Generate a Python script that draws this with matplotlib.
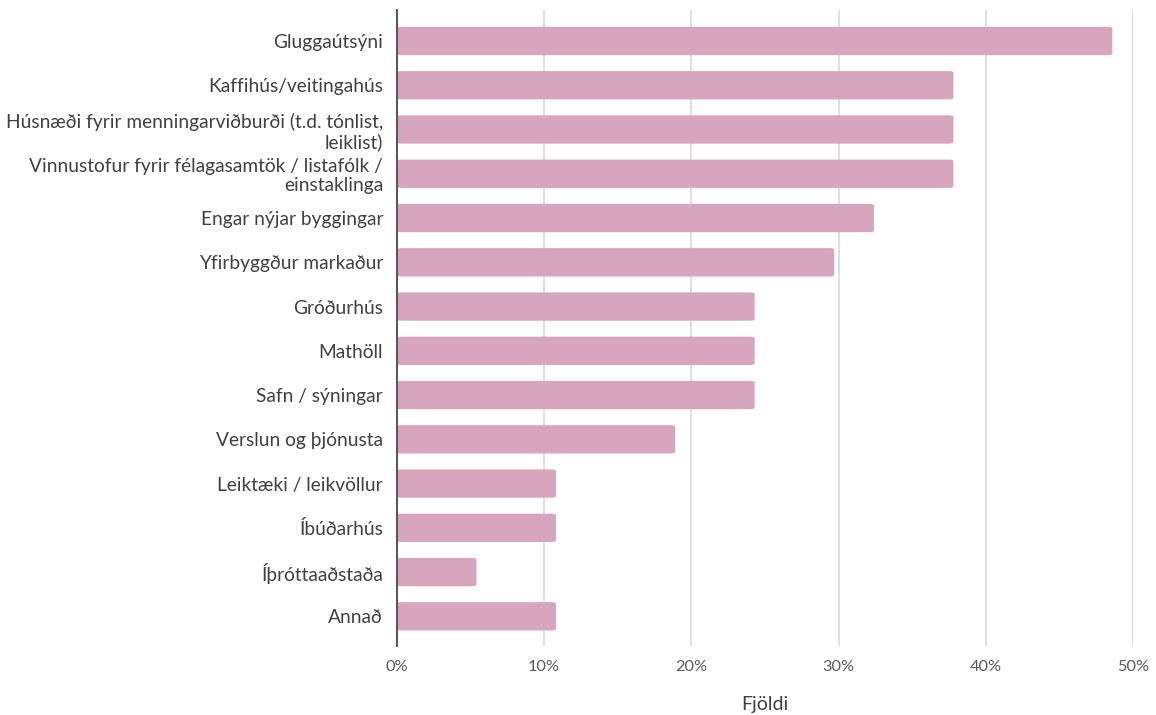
import matplotlib
matplotlib.use("Agg")
import matplotlib.pyplot as plt
from matplotlib.patches import FancyBboxPatch
from matplotlib.ticker import FuncFormatter

categories = [
    "Gluggaútsýni",
    "Kaffihús/veitingahús",
    "Húsnæði fyrir menningarviðburði (t.d. tónlist,\nleiklist)",
    "Vinnustofur fyrir félagasamtök / listafólk /\neinstaklinga",
    "Engar nýjar byggingar",
    "Yfirbyggður markaður",
    "Gróðurhús",
    "Mathöll",
    "Safn / sýningar",
    "Verslun og þjónusta",
    "Leiktæki / leikvöllur",
    "Íbúðarhús",
    "Íþróttaaðstaða",
    "Annað",
]
values = [0.486, 0.378, 0.378, 0.378, 0.324, 0.297, 0.243, 0.243, 0.243, 0.189, 0.108, 0.108, 0.054, 0.108]
xticks = [0, 0.1, 0.2, 0.3, 0.4, 0.5]
xlabel = "Fjöldi"

plt.rcParams['font.family'] = ['Lato', 'DejaVu Sans']

fig = plt.figure(figsize=(11.56, 7.15), dpi=100)
ax = fig.add_axes([397/1156, 1 - 646/715, (1133-397)/1156, (646-10)/715])

bar_color = "#D7A6BE"
ypos = list(range(len(categories)))
bars = ax.barh(ypos, values, height=0.64, color=bar_color)
for b in bars:
    x0, y0 = b.get_x(), b.get_y()
    w, h = b.get_width(), b.get_height()
    b.set_visible(False)
    p = FancyBboxPatch((x0, y0), w, h,
                       boxstyle="round,pad=0,rounding_size=0.003",
                       mutation_aspect=0.64 / 0.003 * 0.06,
                       facecolor=bar_color, edgecolor="none", zorder=2)
    ax.add_patch(p)

ax.set_xlim(0, 0.5)
ax.set_ylim(13.67, -0.70)
ax.set_yticks(ypos)
ax.set_yticklabels(categories, fontsize=13.8, color="#404040", linespacing=1.12)
ax.set_xticks(xticks)
ax.xaxis.set_major_formatter(FuncFormatter(lambda v, p: f"{v*100:.0f}%"))
ax.tick_params(axis='x', labelsize=11.7, labelcolor="#595959", length=0, pad=10)
ax.tick_params(axis='y', length=0, pad=10)
ax.grid(axis='x', color="#D9D9D9", linewidth=1.2, zorder=0)
ax.set_axisbelow(True)
for s in ["top", "right", "bottom"]:
    ax.spines[s].set_visible(False)
ax.spines["left"].set_color("#595959")
ax.spines["left"].set_linewidth(1.5)
ax.spines["left"].set_zorder(3)
ax.set_xlabel(xlabel, fontsize=14, color="#404040", labelpad=16)

fig.savefig("out.png", dpi=100)
